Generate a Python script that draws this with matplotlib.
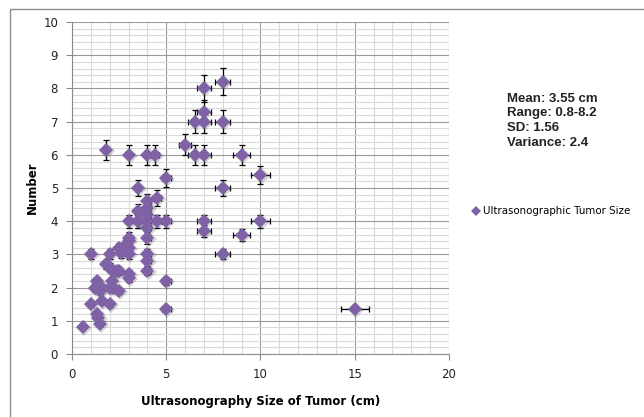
import matplotlib.pyplot as plt
import matplotlib.patches as patches
from matplotlib.ticker import MultipleLocator
import numpy as np

# tumor size (cm) vs number
size_cm = [0.6, 1.0, 1.0, 1.2, 1.3, 1.3, 1.4, 1.5, 1.5, 1.6, 1.6,
           1.8, 1.8, 2.0, 2.0, 2.0, 2.0, 2.1, 2.2, 2.2, 2.4, 2.5,
           2.5, 2.5, 2.6, 2.7, 3.0, 3.0, 3.0, 3.0, 3.0, 3.0, 3.0,
           3.0, 3.5, 3.5, 3.5, 3.5, 4.0, 4.0, 4.0, 4.0, 4.0, 4.0,
           4.0, 4.0, 4.0, 4.0, 4.4, 4.5, 4.5, 5.0, 5.0, 5.0, 5.0,
           6.0, 6.5, 6.5, 7.0, 7.0, 7.0, 7.0, 7.0, 7.0, 8.0, 8.0,
           8.0, 8.0, 9.0, 9.0, 10.0, 10.0, 15.0]
number = [0.8, 3.0, 1.5, 2.0, 2.2, 1.2, 1.1, 0.9, 1.9, 1.6, 2.0,
          6.15, 2.7, 3.0, 2.0, 1.5, 2.6, 2.2, 2.5, 2.0, 2.5, 3.2,
          2.5, 1.9, 3.05, 3.2, 6.0, 4.0, 3.5, 3.4, 3.2, 3.0, 2.4,
          2.3, 5.0, 4.3, 4.0, 4.0, 6.0, 4.6, 4.4, 4.2, 4.0, 3.8,
          3.5, 3.0, 2.8, 2.5, 6.0, 4.7, 4.0, 5.3, 4.0, 2.2, 1.35,
          6.3, 7.0, 6.0, 8.0, 7.3, 6.0, 4.0, 3.7, 7.0, 8.2, 7.0,
          5.0, 3.0, 6.0, 3.6, 5.4, 4.0, 1.35]
err_pct = 0.05

stats_text = "Mean: 3.55 cm\nRange: 0.8-8.2\nSD: 1.56\nVariance: 2.4"

x = np.array(size_cm)
y = np.array(number)

fig = plt.figure(figsize=(6.44, 4.17), dpi=100)
ax = fig.add_axes([0.1118, 0.151, 0.5854, 0.796])

ax.set_xlim(0, 20)
ax.set_ylim(0, 10)
ax.xaxis.set_major_locator(MultipleLocator(5))
ax.xaxis.set_minor_locator(MultipleLocator(1))
ax.yaxis.set_major_locator(MultipleLocator(1))
ax.yaxis.set_minor_locator(MultipleLocator(0.2))
ax.grid(which='minor', color='#dadada', linewidth=0.8)
ax.grid(which='major', color='#999999', linewidth=0.8)
ax.set_axisbelow(True)
for s in ['top', 'right']:
    ax.spines[s].set_visible(False)
for s in ['left', 'bottom']:
    ax.spines[s].set_color('#8c8c8c')
ax.tick_params(which='major', direction='out', length=4, color='#8c8c8c',
               labelsize=8.5, labelcolor='#222222', pad=6)
ax.tick_params(which='minor', length=0)

ax.errorbar(x, y, xerr=x * err_pct, yerr=y * err_pct, fmt='none',
            ecolor='black', elinewidth=0.9, capsize=2.5, capthick=0.9, zorder=3)
# soft shadow under the diamonds
ax.plot(x + 0.06, y - 0.03, linestyle='none', marker='D', markersize=8,
        color='#555555', alpha=0.25, markeredgewidth=0, zorder=4)
ax.plot(x, y, linestyle='none', marker='D', markersize=7.5,
        color='#7f62a6', markeredgewidth=0, zorder=5,
        label='Ultrasonographic Tumor Size')

ax.set_xlabel('Ultrasonography Size of Tumor (cm)', fontsize=8.5,
              fontweight='bold', labelpad=10)
ax.set_ylabel('Number', fontsize=8.5, fontweight='bold', labelpad=3)

fig.text(0.787, 0.778, stats_text, fontsize=9.5, fontweight='bold',
         va='top', ha='left', family='Liberation Sans', linespacing=1.3,
         color='#222222')

ax.legend(loc='center left', bbox_to_anchor=(1.04, 0.43), frameon=False,
          fontsize=7.4, handlelength=0.6, handletextpad=0.3, markerscale=0.7)

fig.patches.append(patches.Rectangle((10 / 644, -0.1), 1.2, 1 - 9 / 417 + 0.1,
                                     transform=fig.transFigure, fill=False,
                                     edgecolor='#8c8c8c', linewidth=1))

plt.savefig('out.png', dpi=100)
